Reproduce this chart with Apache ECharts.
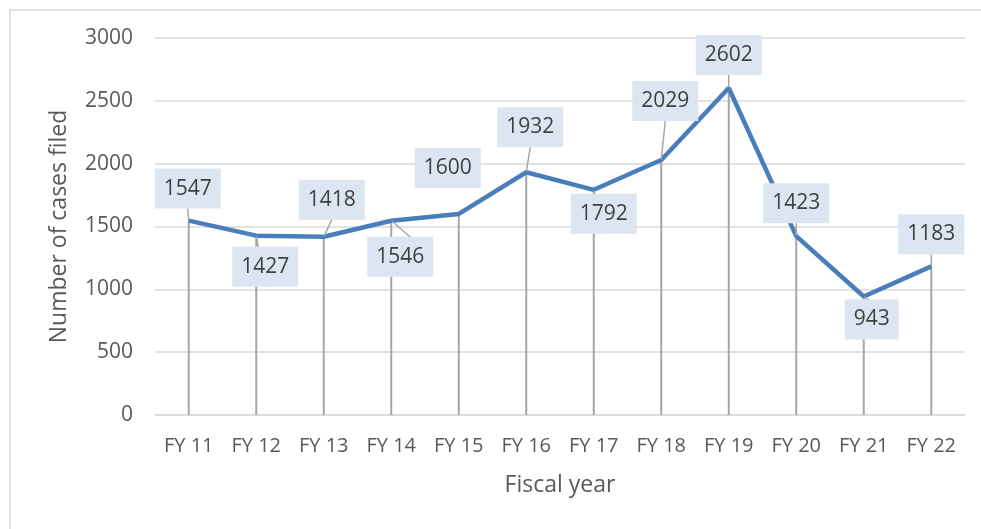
<!DOCTYPE html>
<html>
<head>
<meta charset="utf-8">
<style>
  html, body { margin: 0; padding: 0; background: #fff; }
  #chart { width: 981px; height: 529px; }
</style>
<script src="https://cdn.jsdelivr.net/npm/echarts@6/dist/echarts.min.js"></script>
</head>
<body>
<div id="chart"></div>
<script>
const years = ['FY 11', 'FY 12', 'FY 13', 'FY 14', 'FY 15', 'FY 16', 'FY 17', 'FY 18', 'FY 19', 'FY 20', 'FY 21', 'FY 22']
const cases = [1547, 1427, 1418, 1546, 1600, 1932, 1792, 2029, 2602, 1423, 943, 1183]
// where each data label sits relative to its point (px)
const labelOffsets = [[-1, -32], [9, 31], [8, -37], [9, 36], [-11, -46], [4, -45], [10, 24], [4, -59], [0, -33], [0, -33], [8, 23], [0, -32]]

const chart = echarts.init(document.getElementById('chart'))

const font = '"Open Sans", sans-serif'
const gray = '#595959'

const option = {
  animation: false,
  graphic: [{
    type: 'rect',
    shape: { x: 10, y: 10, width: 1000, height: 600 },
    style: { fill: 'none', stroke: '#d9d9d9', lineWidth: 1.5 },
    silent: true
  }],
  grid: { left: 155, right: 16, top: 38, bottom: 114 },
  xAxis: {
    type: 'category',
    data: years,
    boundaryGap: true,
    name: 'Fiscal year',
    nameLocation: 'middle',
    nameGap: 59,
    nameTextStyle: { color: gray, fontSize: 23, fontFamily: font },
    axisLine: { lineStyle: { color: '#d9d9d9', width: 1.5 } },
    axisTick: { show: false },
    axisLabel: { color: gray, fontSize: 20, fontFamily: font, margin: 21, interval: 0 }
  },
  yAxis: {
    type: 'value',
    min: 0,
    max: 3000,
    interval: 500,
    name: 'Number of cases filed',
    nameLocation: 'middle',
    nameGap: 84,
    nameRotate: 90,
    nameTextStyle: { color: gray, fontSize: 23, fontFamily: font },
    axisLine: { show: false },
    axisTick: { show: false },
    axisLabel: { color: gray, fontSize: 21, fontFamily: font, margin: 22, formatter: v => String(v) },
    splitLine: { lineStyle: { color: '#d9d9d9', width: 1.5 } }
  },
  series: [
    {
      // drop lines from each point down to the axis
      type: 'bar',
      data: cases,
      barWidth: 2,
      itemStyle: { color: '#a6a6a6' },
      z: 1,
      silent: true
    },
    {
      type: 'line',
      data: cases.map((v, i) => ({
        value: v,
        label: { offset: labelOffsets[i] },
        // the leader for FY 15 comes out pointing the wrong way, so leave it off
        labelLine: { show: i !== 4 }
      })),
      symbol: 'circle',
      symbolSize: 1,
      itemStyle: { color: '#4a7ebb' },
      lineStyle: { color: '#4a7ebb', width: 4.5 },
      z: 3,
      label: {
        show: true,
        position: 'inside',
        color: '#404040',
        fontSize: 21,
        lineHeight: 22,
        fontFamily: font,
        backgroundColor: '#dce6f2',
        padding: [10, 9, 8, 9]
      },
      labelLine: {
        show: true,
        length2: 0,
        smooth: false,
        lineStyle: { color: '#a6a6a6', width: 1.5 }
      }
    }
  ]
}

chart.setOption(option)
</script>
</body>
</html>
